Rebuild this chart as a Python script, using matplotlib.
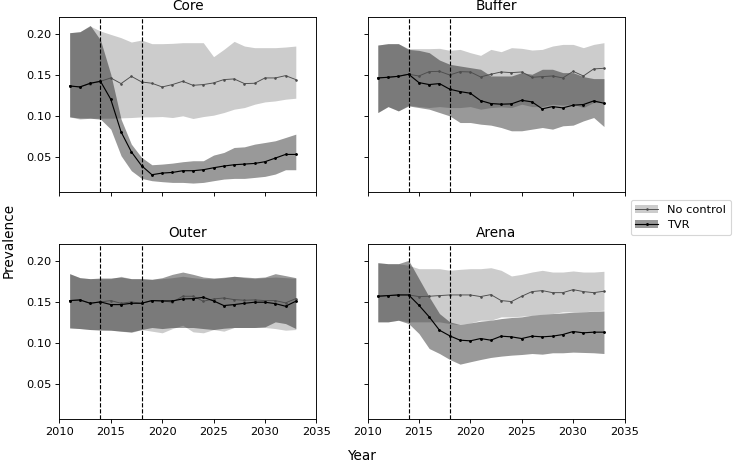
import numpy as np
import matplotlib
matplotlib.use("Agg")
import matplotlib.pyplot as plt
from matplotlib.patches import Patch
from matplotlib.lines import Line2D

years = list(range(2011, 2034))
regions = ["Core", "Buffer", "Outer", "Arena"]
series_labels = ["No control", "TVR"]
interventions = [2014, 2018]

# ---- Core ----
core_nc = [0.1366,0.1354,0.1395,0.1423,0.1464,0.1395,0.1484,0.1415,0.1399,0.1354,0.1383,0.1423,0.1374,0.1383,0.1403,0.1444,0.1452,0.1395,0.1399,0.1464,0.1464,0.1492,0.1444]
core_nc_lo = [0.0988,0.0960,0.0972,0.0972,0.0972,0.0976,0.0980,0.0988,0.0988,0.0992,0.0980,0.1001,0.0968,0.0992,0.1009,0.1041,0.1082,0.1102,0.1143,0.1171,0.1183,0.1204,0.1216]
core_nc_hi = [0.2017,0.2029,0.2098,0.2037,0.1996,0.1956,0.1903,0.1927,0.1883,0.1883,0.1887,0.1895,0.1895,0.1895,0.1724,0.1813,0.1911,0.1854,0.1834,0.1834,0.1834,0.1842,0.1854]
core_tvr = [0.1366,0.1354,0.1399,0.1423,0.1203,0.0805,0.0561,0.0391,0.0281,0.0301,0.0309,0.0330,0.0330,0.0342,0.0366,0.0387,0.0403,0.0411,0.0419,0.0440,0.0484,0.0529,0.0529]
core_tvr_lo = [0.0988,0.0972,0.0972,0.0960,0.0838,0.0513,0.0330,0.0236,0.0208,0.0196,0.0187,0.0187,0.0179,0.0187,0.0208,0.0228,0.0236,0.0236,0.0248,0.0261,0.0289,0.0342,0.0342]
core_tvr_hi = [0.2017,0.2029,0.2106,0.1927,0.1509,0.0960,0.0655,0.0492,0.0403,0.0411,0.0423,0.0440,0.0452,0.0452,0.0521,0.0553,0.0614,0.0622,0.0655,0.0675,0.0696,0.0736,0.0777]

# ---- Buffer ----
buf_nc = [0.1464,0.1472,0.1484,0.1509,0.1488,0.1541,0.1545,0.1500,0.1541,0.1537,0.1476,0.1509,0.1537,0.1529,0.1537,0.1472,0.1480,0.1488,0.1464,0.1545,0.1488,0.1574,0.1582]
buf_nc_lo = [0.1041,0.1114,0.1061,0.1131,0.1114,0.1102,0.1114,0.1102,0.1102,0.1114,0.1082,0.1102,0.1110,0.1102,0.1143,0.1114,0.1114,0.1143,0.1131,0.1143,0.1102,0.1163,0.1163]
buf_nc_hi = [0.1866,0.1883,0.1883,0.1822,0.1822,0.1822,0.1826,0.1801,0.1813,0.1773,0.1740,0.1813,0.1785,0.1834,0.1826,0.1805,0.1813,0.1854,0.1874,0.1874,0.1834,0.1874,0.1895]
buf_tvr = [0.1464,0.1472,0.1484,0.1509,0.1407,0.1383,0.1395,0.1326,0.1297,0.1277,0.1187,0.1151,0.1143,0.1147,0.1191,0.1171,0.1086,0.1114,0.1098,0.1131,0.1139,0.1183,0.1155]
buf_tvr_lo = [0.1041,0.1114,0.1061,0.1122,0.1102,0.1082,0.1041,0.1000,0.0919,0.0919,0.0899,0.0887,0.0858,0.0818,0.0818,0.0838,0.0858,0.0838,0.0879,0.0887,0.0939,0.0980,0.0870]
buf_tvr_hi = [0.1866,0.1883,0.1883,0.1813,0.1801,0.1773,0.1683,0.1631,0.1610,0.1590,0.1570,0.1488,0.1488,0.1488,0.1529,0.1509,0.1570,0.1570,0.1529,0.1529,0.1480,0.1456,0.1456]

# ---- Outer ----
out_nc = [0.1516,0.1524,0.1483,0.1500,0.1516,0.1483,0.1500,0.1483,0.1516,0.1512,0.1496,0.1569,0.1569,0.1508,0.1536,0.1548,0.1528,0.1520,0.1524,0.1516,0.1516,0.1488,0.1540]
out_nc_lo = [0.1182,0.1174,0.1162,0.1162,0.1154,0.1142,0.1126,0.1162,0.1142,0.1122,0.1174,0.1215,0.1134,0.1122,0.1162,0.1142,0.1187,0.1187,0.1187,0.1187,0.1174,0.1154,0.1162]
out_nc_hi = [0.1845,0.1796,0.1784,0.1784,0.1784,0.1813,0.1784,0.1784,0.1776,0.1784,0.1796,0.1813,0.1796,0.1784,0.1784,0.1804,0.1813,0.1796,0.1784,0.1796,0.1804,0.1796,0.1788]
out_tvr = [0.1516,0.1524,0.1483,0.1500,0.1467,0.1467,0.1483,0.1483,0.1516,0.1512,0.1512,0.1536,0.1540,0.1556,0.1512,0.1455,0.1467,0.1483,0.1496,0.1496,0.1479,0.1447,0.1508]
out_tvr_lo = [0.1182,0.1174,0.1162,0.1154,0.1154,0.1142,0.1134,0.1162,0.1187,0.1174,0.1187,0.1187,0.1187,0.1174,0.1162,0.1178,0.1187,0.1187,0.1187,0.1195,0.1256,0.1235,0.1174]
out_tvr_hi = [0.1845,0.1796,0.1784,0.1792,0.1792,0.1804,0.1784,0.1784,0.1776,0.1796,0.1837,0.1865,0.1837,0.1804,0.1792,0.1796,0.1813,0.1804,0.1796,0.1804,0.1845,0.1821,0.1796]

# ---- Arena ----
ar_nc = [0.1569,0.1577,0.1585,0.1585,0.1565,0.1569,0.1577,0.1585,0.1585,0.1585,0.1565,0.1589,0.1516,0.1504,0.1569,0.1626,0.1638,0.1613,0.1613,0.1650,0.1626,0.1613,0.1630]
ar_nc_lo = [0.1256,0.1256,0.1276,0.1256,0.1256,0.1256,0.1256,0.1235,0.1223,0.1243,0.1276,0.1276,0.1317,0.1317,0.1325,0.1337,0.1349,0.1357,0.1378,0.1378,0.1378,0.1390,0.1398]
ar_nc_hi = [0.1979,0.1967,0.1967,0.1947,0.1906,0.1906,0.1906,0.1886,0.1898,0.1906,0.1906,0.1918,0.1886,0.1817,0.1837,0.1865,0.1886,0.1865,0.1865,0.1878,0.1865,0.1865,0.1874]
ar_tvr = [0.1569,0.1577,0.1585,0.1585,0.1459,0.1317,0.1154,0.1085,0.1032,0.1024,0.1052,0.1032,0.1081,0.1073,0.1052,0.1081,0.1073,0.1081,0.1101,0.1138,0.1122,0.1130,0.1130]
ar_tvr_lo = [0.1256,0.1256,0.1276,0.1235,0.1113,0.0930,0.0869,0.0796,0.0739,0.0768,0.0796,0.0821,0.0837,0.0849,0.0857,0.0869,0.0861,0.0878,0.0878,0.0886,0.0882,0.0878,0.0869]
ar_tvr_hi = [0.1979,0.1967,0.1967,0.2008,0.1784,0.1561,0.1357,0.1256,0.1223,0.1243,0.1264,0.1276,0.1296,0.1309,0.1317,0.1337,0.1349,0.1357,0.1365,0.1374,0.1378,0.1386,0.1390]

panel_data = {
    "Core":   (core_nc, core_nc_lo, core_nc_hi, core_tvr, core_tvr_lo, core_tvr_hi),
    "Buffer": (buf_nc, buf_nc_lo, buf_nc_hi, buf_tvr, buf_tvr_lo, buf_tvr_hi),
    "Outer":  (out_nc, out_nc_lo, out_nc_hi, out_tvr, out_tvr_lo, out_tvr_hi),
    "Arena":  (ar_nc, ar_nc_lo, ar_nc_hi, ar_tvr, ar_tvr_lo, ar_tvr_hi),
}

DPI = 82
fig, axes = plt.subplots(2, 2, sharex=True, sharey=True,
                         figsize=(733 / DPI, 463 / DPI), dpi=DPI)
fig.subplots_adjust(left=0.081, right=0.852, top=0.9626, bottom=0.0944,
                    wspace=0.199, hspace=0.296)

nc_line_color = "0.3"
for ax, name in zip(axes.flat, regions):
    nc, nc_lo, nc_hi, tvr, tvr_lo, tvr_hi = panel_data[name]
    ax.fill_between(years, nc_lo, nc_hi, color="k", alpha=0.2, linewidth=0)
    ax.plot(years, nc, color=nc_line_color, lw=0.8, marker=".", ms=2.5)
    ax.fill_between(years, tvr_lo, tvr_hi, color="k", alpha=0.4, linewidth=0)
    ax.plot(years, tvr, color="k", lw=1.0, marker=".", ms=3)
    for xv in interventions:
        ax.axvline(xv, color="k", ls="--", lw=1.0)
    ax.set_title(name)
    ax.set_xlim(2010, 2035)
    ax.set_ylim(0.0065, 0.2205)
    ax.set_xticks([2010, 2015, 2020, 2025, 2030, 2035])
    ax.set_yticks([0.05, 0.10, 0.15, 0.20])

handles = [
    (Patch(facecolor="k", alpha=0.2, linewidth=0),
     Line2D([], [], color=nc_line_color, lw=0.8, marker=".", ms=2.5)),
    (Patch(facecolor="k", alpha=0.4, linewidth=0),
     Line2D([], [], color="k", lw=1.0, marker=".", ms=3)),
]
fig.legend(handles, series_labels, loc="center left",
           bbox_to_anchor=(0.853, 0.530), borderaxespad=0.5)

fig.supxlabel("Year", x=0.493, y=0.0)
fig.supylabel("Prevalence", x=0.002, y=0.48)

fig.savefig("out.png", dpi=DPI)
